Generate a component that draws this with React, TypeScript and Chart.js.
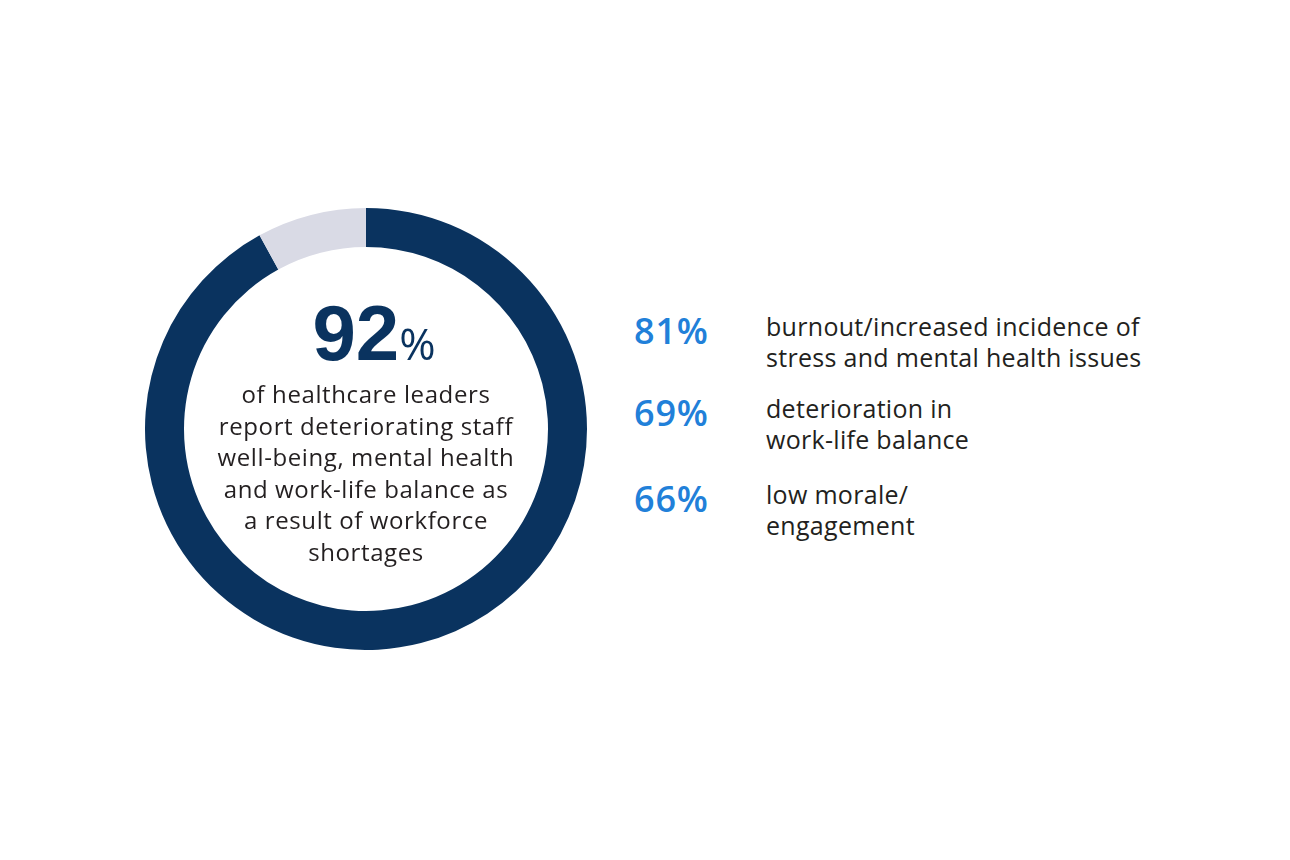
import React, { useEffect, useRef } from "react";
import { Chart, registerables } from "chart.js";

Chart.register(...registerables);

const ringLabels = ["Report deterioration", "Other"];
const ringValues = [92, 8];
const ringColors = ["#0a335f", "#d9dae5"];

const headlineValue = "92";
const headlineUnit = "%";
const headlineLines = [
  "of healthcare leaders",
  "report deteriorating staff",
  "well-being, mental health",
  "and work-life balance as",
  "a result of workforce",
  "shortages",
];

const statValues = ["81%", "69%", "66%"];
const statLines = [
  ["burnout/increased incidence of", "stress and mental health issues"],
  ["deterioration in", "work-life balance"],
  ["low morale/", "engagement"],
];

const FONT = "'Open Sans', 'Noto Sans', sans-serif";
const BIG_FONT = "'Liberation Sans', Arial, sans-serif";

export default function App() {
  const canvasRef = useRef<HTMLCanvasElement | null>(null);

  useEffect(() => {
    document.body.style.margin = "0";
    const canvas = canvasRef.current;
    if (!canvas) return;
    const chart = new Chart(canvas, {
      type: "doughnut",
      data: {
        labels: ringLabels,
        datasets: [
          {
            data: ringValues,
            backgroundColor: ringColors,
            borderWidth: 0,
            hoverOffset: 0,
          },
        ],
      },
      options: {
        animation: false,
        responsive: false,
        maintainAspectRatio: false,
        cutout: 182,
        rotation: 0,
        layout: { padding: 0 },
        plugins: {
          legend: { display: false },
          tooltip: { enabled: false },
        },
        events: [],
      },
    });
    return () => chart.destroy();
  }, []);

  const cx = 366;
  const statTops = [310, 392, 478];

  return (
    <div
      style={{
        position: "absolute",
        left: 0,
        top: 0,
        width: 1290,
        height: 860,
        background: "#ffffff",
        fontFamily: FONT,
        overflow: "hidden",
      }}
    >
      <canvas
        ref={canvasRef}
        width={442}
        height={442}
        style={{ position: "absolute", left: cx - 221, top: 208, width: 442, height: 442 }}
      />
      <div
        style={{
          position: "absolute",
          left: 374 - 100,
          width: 200,
          top: 294,
          textAlign: "center",
          color: "#0a335f",
          fontFamily: BIG_FONT,
          fontSize: 78,
          fontWeight: 700,
          lineHeight: "78px",
          whiteSpace: "nowrap",
        }}
      >
        <span>{headlineValue}</span>
        <span style={{ fontFamily: FONT, fontSize: 44, fontWeight: 400, lineHeight: "44px" }}>
          {headlineUnit}
        </span>
      </div>
      {headlineLines.map((line, i) => (
        <div
          key={i}
          style={{
            position: "absolute",
            left: cx - 175,
            width: 350,
            top: 378 + i * 31.5,
            textAlign: "center",
            fontSize: 24,
            letterSpacing: 0.6,
            lineHeight: "32px",
            color: "#231f20",
            whiteSpace: "nowrap",
          }}
        >
          {line}
        </div>
      ))}
      {statValues.map((v, i) => (
        <React.Fragment key={i}>
          <div
            style={{
              position: "absolute",
              left: 634,
              top: statTops[i] - 1,
              fontSize: 36,
              fontWeight: 600,
              letterSpacing: 0.8,
              lineHeight: "44px",
              color: "#2180d9",
              whiteSpace: "nowrap",
            }}
          >
            {v}
          </div>
          {statLines[i].map((line, j) => (
            <div
              key={j}
              style={{
                position: "absolute",
                left: 766,
                top: statTops[i] + j * 31,
                fontSize: 25,
                letterSpacing: 0.3,
                lineHeight: "32px",
                color: "#231f20",
                whiteSpace: "nowrap",
              }}
            >
              {line}
            </div>
          ))}
        </React.Fragment>
      ))}
    </div>
  );
}
